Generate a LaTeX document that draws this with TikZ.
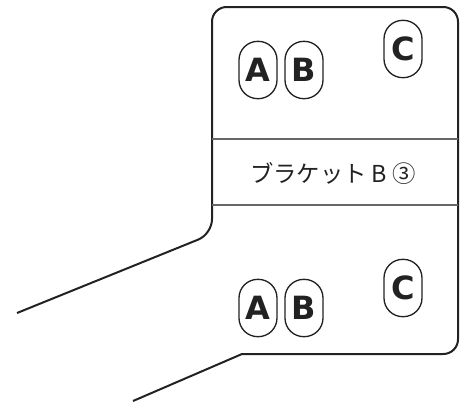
\documentclass[tikz,border=0pt]{standalone}
\usepackage{fontspec}
\usepackage{tikz}
\newfontfamily\jpfont{Noto Sans CJK JP}
\newfontfamily\badgefont{DejaVu Sans}
\definecolor{inkgray}{HTML}{222222}
\definecolor{rulegray}{HTML}{666666}

\begin{document}
\begin{tikzpicture}[x=0.75pt,y=-0.75pt,
		outline/.style={draw=inkgray,line width=1.5pt,line join=round},
		divider/.style={draw=rulegray,line width=0.9pt},
		badge/.style={draw=inkgray,line width=1pt,rounded corners=14pt,
			minimum width=28.5pt,minimum height=43pt,inner sep=0pt,
			font=\badgefont\bfseries\fontsize{24}{28}\selectfont,text=inkgray},
		caption/.style={font=\jpfont\fontsize{17.5}{21}\selectfont,text=inkgray}]
		\useasboundingbox (0,0) rectangle (461,401);
		\draw[outline] (17,313) [rounded corners=11pt] -- (212,234) -- (212,7) -- (458,7) -- (458,354) [sharp corners] -- (242,354) -- (133,401);
		\draw[divider] (212,139) -- (458,139);
		\draw[divider] (212,205) -- (458,205);
		\node[caption] (name) at (333,173) {ブラケット B ③};
		\node[badge] (topA) at (258,70) {A};
		\node[badge] (topB) at (304,70) {B};
		\node[badge] (topC) at (403,49) {C};
		\node[badge] (lowA) at (258,308) {A};
		\node[badge] (lowB) at (304,308) {B};
		\node[badge] (lowC) at (403,288) {C};
	\end{tikzpicture}
\end{document}
